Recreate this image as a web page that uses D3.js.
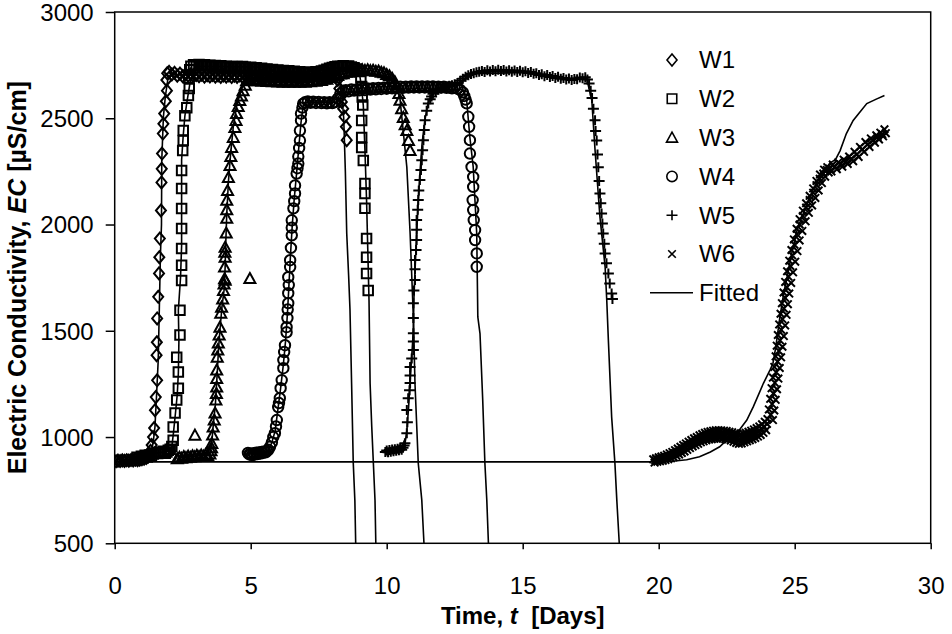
<!DOCTYPE html>
<html>
<head>
<meta charset="utf-8">
<script src="https://cdn.jsdelivr.net/npm/d3@7"></script>
<style>
  body { margin: 0; background: #fff; }
  svg text { font-family: "Liberation Sans", Arial, sans-serif; fill: #000; }
</style>
</head>
<body>
<svg id="chart" width="952" height="634"></svg>
<script>
// measured points [time (days), EC (uS/cm)]
const w1 = [
  [0.05,886],[0.12,889],[0.2,887],[0.28,890],[0.36,888],[0.44,891],[0.52,889],[0.6,892],[0.68,890],[0.76,893],[0.84,891],[0.92,894],[1.0,896],[1.08,898],[1.16,902],[1.22,908],
  [1.28,915],[1.32,935],[1.36,962],[1.41,1000],[1.45,1042],[1.48,1126],[1.51,1188],[1.56,1267],[1.54,1385],[1.55,1446],[1.56,1558],[1.6,1660],[1.63,1770],[1.64,1846],[1.66,1934],[1.7,2066],[1.72,2198],[1.73,2262],[1.74,2334],[1.77,2428],[1.79,2474],[1.82,2522],[1.88,2580],[1.92,2630],[1.9,2680],[1.93,2712],
  [2.0,2718],[2.1,2706],[2.2,2714],[2.3,2700],[2.4,2710],[2.5,2698],[2.6,2706],[2.7,2700],[2.8,2707],[2.9,2697],[3.0,2704],[3.1,2698],[3.2,2705],[3.3,2696],[3.4,2703],[3.5,2697],[3.6,2704],[3.7,2696],[3.8,2702],[3.9,2695],[4.0,2702],[4.1,2696],[4.2,2701],[4.3,2694],[4.4,2700],[4.5,2695],[4.6,2701],[4.7,2694],[4.8,2700],[4.9,2693],[5.0,2699],[5.1,2694],[5.2,2700],[5.3,2693],[5.4,2698],[5.5,2692],[5.6,2698],[5.7,2692],[5.8,2697],[5.9,2691],[6.0,2697],[6.1,2692],[6.2,2696],[6.3,2690],[6.4,2696],[6.5,2691],[6.6,2695],[6.7,2690],[6.8,2695],[6.9,2691],[7.0,2696],[7.1,2692],[7.2,2698],[7.3,2694],[7.4,2700],[7.5,2697],[7.6,2703],[7.7,2699],[7.8,2705],[7.9,2701],[8.0,2704],[8.1,2698],[8.2,2680],[8.26,2640],[8.3,2600],[8.35,2577],[8.4,2545],[8.45,2507],[8.5,2460],[8.53,2397]
];
const w2 = [
  [0.82,905],[0.9,898],[0.98,910],[1.05,902],[1.12,914],[1.2,906],[1.28,916],[1.35,910],[1.42,920],[1.5,925],[1.58,922],[1.65,930],[1.72,926],[1.8,933],[1.86,924],[1.92,930],[1.97,938],[2.04,942],[2.1,955],[2.15,985],
  [2.15,1047],[2.22,1113],[2.28,1174],[2.34,1230],[2.34,1306],[2.28,1376],[2.4,1480],[2.4,1597],[2.46,1737],[2.46,1808],[2.46,1887],[2.46,1981],[2.46,2075],[2.46,2169],[2.46,2254],[2.5,2348],[2.52,2395],[2.52,2442],[2.58,2512],[2.65,2550],[2.71,2607],[2.74,2640],[2.72,2690],[2.76,2728],
  [2.8,2745],[2.9,2752],[3.0,2746],[3.1,2753],[3.2,2748],[3.3,2752],[3.4,2746],[3.5,2750],[3.6,2744],[3.7,2748],[3.8,2742],[3.9,2747],[4.0,2741],[4.1,2745],[4.2,2740],[4.3,2744],[4.4,2739],[4.5,2743],[4.6,2738],[4.7,2744],[4.8,2740],[4.9,2736],[5.0,2740],[5.1,2735],[5.2,2738],[5.3,2732],[5.4,2735],[5.5,2729],[5.6,2732],[5.7,2727],[5.8,2730],[5.9,2724],[6.0,2727],[6.1,2722],[6.2,2725],[6.3,2720],[6.4,2723],[6.5,2718],[6.6,2721],[6.7,2716],[6.8,2719],[6.9,2714],[7.0,2717],[7.1,2713],[7.2,2717],[7.3,2714],[7.4,2719],[7.5,2716],[7.6,2722],[7.7,2726],[7.8,2731],[7.9,2735],[8.0,2739],[8.1,2742],[8.2,2745],[8.3,2743],[8.4,2747],[8.5,2744],[8.6,2746],[8.7,2741],[8.8,2738],[8.9,2732],[9.0,2720],[9.05,2690],[9.08,2650],
  [9.1,2600],[9.12,2562],[9.08,2490],[9.08,2410],[9.08,2363],[9.14,2301],[9.2,2193],[9.2,2146],[9.2,2076],[9.26,1934],[9.26,1846],[9.26,1770],[9.32,1690]
];
const w3 = [
  [2.3,898],[2.38,905],[2.46,900],[2.54,908],[2.62,903],[2.7,910],[2.78,905],[2.86,912],[2.95,1009],[2.94,907],[3.02,914],[3.1,908],[3.18,915],[3.26,910],[3.34,917],[3.42,912],[3.5,920],[3.54,935],[3.56,950],
  [3.57,970],[3.6,1010],[3.62,1047],[3.66,1080],[3.69,1113],[3.72,1174],[3.74,1205],[3.75,1235],[3.75,1275],[3.75,1315],[3.77,1376],[3.79,1410],[3.81,1442],[3.84,1480],[3.87,1517],[3.9,1583],[3.93,1611],[3.97,1650],[4.0,1690],[4.02,1720],[4.04,1745],[4.06,1738],[4.04,1800],[4.06,1846],[4.05,1870],[4.06,1893],[4.1,1960],[4.12,2029],[4.12,2070],[4.12,2114],[4.15,2160],[4.18,2221],[4.24,2278],[4.27,2320],[4.3,2363],[4.36,2410],[4.42,2456],[4.46,2490],[4.48,2522],[4.54,2555],[4.6,2583],[4.66,2605],[4.72,2630],[4.8,2655],[4.85,2677],
  [4.97,1746],
  [4.95,2682],[5.0,2678],[5.1,2684],[5.2,2676],[5.3,2682],[5.4,2674],[5.5,2680],[5.6,2673],[5.7,2679],[5.8,2672],[5.9,2678],[6.0,2671],[6.1,2677],[6.2,2670],[6.3,2676],[6.4,2670],[6.5,2675],[6.6,2669],[6.7,2675],[6.8,2669],[6.9,2674],[7.0,2670],[7.1,2675],[7.2,2672],[7.3,2677],[7.4,2674],[7.5,2680],[7.6,2678],[7.7,2685],[7.8,2684],[7.9,2692],[8.0,2692],[8.1,2700],[8.2,2701],[8.3,2708],[8.4,2710],[8.5,2716],[8.6,2717],[8.7,2722],[8.8,2721],[8.9,2726],[9.0,2724],[9.1,2728],[9.2,2725],[9.3,2728],[9.4,2724],[9.5,2726],[9.6,2721],[9.7,2722],[9.8,2716],[9.9,2714],[10.0,2706],[10.1,2700],[10.2,2688],[10.3,2672],[10.38,2645],
  [10.45,2616],[10.49,2585],[10.55,2545],[10.61,2504],[10.68,2470],[10.74,2442],[10.8,2395],[10.86,2348]
];
const w4 = [
  [4.9,925],[4.95,918],[5.0,922],[5.05,915],[5.1,924],[5.15,918],[5.2,926],[5.25,920],[5.3,928],[5.35,922],[5.4,930],[5.45,925],[5.5,932],[5.55,928],[5.6,935],[5.65,940],
  [5.71,954],[5.78,975],[5.83,1000],[5.89,1018],[5.93,1050],[5.96,1080],[6.01,1141],[6.04,1160],[6.07,1183],[6.1,1230],[6.14,1268],[6.2,1324],[6.2,1362],[6.23,1400],[6.26,1432],[6.32,1493],[6.32,1517],[6.35,1560],[6.36,1600],[6.38,1630],[6.38,1677],[6.4,1715],[6.38,1752],[6.45,1800],[6.45,1832],[6.48,1890],[6.51,1949],[6.51,1985],[6.51,2020],[6.57,2076],[6.6,2110],[6.63,2146],[6.63,2184],[6.69,2240],[6.72,2265],[6.75,2287],[6.75,2320],[6.78,2360],[6.81,2395],[6.81,2442],[6.85,2490],[6.85,2522],[6.9,2550],[6.93,2569],
  [7.0,2575],[7.1,2579],[7.2,2573],[7.3,2578],[7.4,2572],[7.5,2577],[7.6,2571],[7.7,2576],[7.8,2570],[7.9,2575],[8.0,2571],[8.1,2576],[8.2,2592],[8.3,2615],[8.4,2628],[8.5,2632],[8.6,2627],[8.7,2635],[8.8,2630],[8.9,2636],[9.0,2631],[9.1,2638],[9.2,2633],[9.3,2640],[9.4,2635],[9.5,2641],[9.6,2636],[9.7,2643],[9.8,2638],[9.9,2644],[10.0,2639],[10.1,2646],[10.2,2641],[10.3,2647],[10.4,2642],[10.5,2648],[10.6,2643],[10.7,2649],[10.8,2644],[10.9,2650],[11.0,2645],[11.1,2650],[11.2,2645],[11.3,2650],[11.4,2645],[11.5,2650],[11.6,2646],[11.7,2650],[11.8,2645],[11.9,2649],[12.0,2644],[12.1,2648],[12.2,2643],[12.3,2646],[12.4,2641],[12.5,2644],[12.6,2639],[12.7,2634],[12.8,2622],[12.85,2605],[12.9,2588],
  [12.94,2570],[13.0,2507],[13.03,2460],[13.06,2397],[13.06,2334],[13.12,2271],[13.18,2224],[13.18,2177],[13.16,2115],[13.18,2068],[13.2,2021],[13.25,1974],[13.25,1927],[13.31,1864],[13.31,1801]
];
const w5 = [
  [9.95,930],[10.0,937],[10.05,928],[10.1,939],[10.15,931],[10.2,941],[10.25,933],[10.3,943],[10.35,936],[10.4,945],[10.45,938],[10.5,947],[10.55,940],[10.6,950],[10.64,960],[10.67,971],
  [10.74,1018],[10.76,1070],[10.74,1127],[10.79,1183],[10.84,1220],[10.86,1254],[10.86,1290],[10.86,1329],[10.92,1370],[10.98,1409],[10.98,1450],[10.98,1488],[10.98,1560],[10.98,1629],[11.0,1690],[11.04,1739],[11.04,1790],[11.04,1833],[11.08,1880],[11.1,1927],[11.1,1975],[11.1,2021],[11.14,2070],[11.16,2115],[11.18,2160],[11.22,2209],[11.26,2256],[11.29,2303],[11.32,2350],[11.35,2397],[11.38,2445],[11.41,2491],[11.47,2535],[11.53,2570],[11.6,2590],[11.65,2602],
  [11.7,2615],[11.8,2628],[11.9,2634],[12.0,2640],[12.1,2646],[12.2,2648],[12.3,2653],[12.4,2655],[12.5,2660],[12.6,2666],[12.7,2676],[12.8,2686],[12.9,2695],[13.0,2702],[13.1,2708],[13.2,2712],[13.3,2716],[13.4,2719],[13.5,2722],[13.6,2718],[13.7,2726],[13.8,2720],[13.9,2727],[14.0,2721],[14.1,2728],[14.2,2722],[14.3,2727],[14.4,2720],[14.5,2726],[14.6,2719],[14.7,2725],[14.8,2718],[14.9,2724],[15.0,2716],[15.1,2721],[15.2,2713],[15.3,2718],[15.4,2709],[15.5,2712],[15.6,2703],[15.7,2707],[15.8,2698],[15.9,2703],[16.0,2694],[16.1,2699],[16.2,2690],[16.3,2695],[16.4,2686],[16.5,2690],[16.6,2682],[16.7,2687],[16.8,2680],[16.9,2685],[17.0,2684],[17.1,2692],[17.2,2688],[17.3,2693],[17.38,2682],
  [17.44,2663],[17.5,2630],[17.55,2595],[17.6,2545],[17.66,2491],[17.68,2440],[17.72,2395],[17.75,2330],[17.78,2269],[17.81,2205],[17.84,2146],[17.87,2100],[17.9,2052],[17.93,2005],[17.96,1958],[18.0,1910],[18.03,1864],[18.08,1818],[18.15,1770],[18.2,1722],[18.27,1676],[18.3,1650]
];
const w6 = [
  [19.8,895],[19.85,880],[19.9,900],[19.95,884],[20.0,905],[20.05,886],[20.1,908],[20.15,889],[20.2,912],[20.25,892],[20.3,918],[20.35,896],[20.4,924],[20.45,900],[20.5,930],[20.55,905],[20.6,938],[20.65,912],[20.7,946],[20.75,918],[20.8,954],[20.85,925],[20.9,962],[20.95,932],[21.0,970],[21.05,940],[21.1,978],[21.15,948],[21.2,986],[21.25,956],[21.3,994],[21.35,962],[21.4,1000],[21.45,968],[21.5,1008],[21.55,975],[21.6,1014],[21.65,980],[21.7,1020],[21.75,985],[21.8,1024],[21.85,988],[21.9,1027],[21.95,990],[22.0,1030],[22.05,992],[22.1,1032],[22.15,993],[22.2,1032],[22.25,994],[22.3,1031],[22.35,993],[22.4,1030],[22.45,990],[22.5,1028],[22.55,988],[22.6,1025],[22.65,984],[22.7,1022],[22.75,978],[22.8,1018],[22.85,972],[22.9,1015],[22.95,968],[23.0,1012],[23.05,970],[23.1,1015],[23.15,975],[23.2,1020],[23.25,980],[23.3,1025],[23.35,985],[23.4,1030],[23.45,990],[23.5,1036],[23.55,996],[23.6,1042],[23.65,1002],[23.7,1050],[23.75,1010],[23.8,1060],[23.85,1020],[23.9,1072],[23.95,1032],
  [19.88,890],[19.98,894],[20.08,898],[20.18,901],[20.28,906],[20.38,911],[20.48,916],[20.58,924],[20.68,931],[20.78,938],[20.88,946],[20.98,955],[21.08,962],[21.18,970],[21.28,976],[21.38,984],[21.48,990],[21.58,996],[21.68,1002],[21.78,1006],[21.88,1009],[21.98,1011],[22.08,1012],[22.18,1013],[22.28,1012],[22.38,1011],[22.48,1009],[22.58,1006],[22.68,1002],[22.78,997],[22.88,993],[22.98,990],[23.08,992],[23.18,997],[23.28,1002],[23.38,1008],[23.48,1013],[23.58,1020],[23.68,1028],[23.78,1038],[23.88,1048],[23.98,1062],
  [24.0,1085],[24.2,1080],[24.05,1130],[24.25,1125],[24.1,1180],[24.3,1175],[24.15,1230],[24.35,1225],[24.2,1280],[24.4,1275],[24.25,1330],[24.45,1325],[24.3,1380],[24.5,1375],[24.34,1430],[24.55,1425],[24.38,1480],[24.6,1475],[24.43,1530],[24.65,1525],[24.48,1580],[24.7,1575],[24.53,1630],[24.75,1625],[24.59,1680],[24.8,1675],[24.65,1730],[24.87,1725],[24.72,1780],[24.94,1775],[24.8,1830],[25.02,1825],[24.88,1880],[25.1,1875],[24.97,1930],[25.18,1925],[25.07,1980],[25.28,1970],[25.18,2025],[25.4,2015],[25.3,2065],[25.52,2055],[25.42,2100],[25.64,2090],[25.55,2135],[25.76,2125],[25.68,2170],[25.88,2160],[25.8,2205],[26.0,2195],[25.93,2235],[26.12,2225],[26.08,2258],[26.25,2245],
  [24.12,1105],[24.17,1155],[24.22,1205],[24.27,1255],[24.32,1305],[24.37,1355],[24.42,1405],[24.46,1455],[24.5,1505],[24.55,1555],[24.6,1605],[24.65,1655],[24.71,1705],[24.77,1755],[24.84,1805],[24.91,1855],[24.99,1905],[25.08,1955],[25.18,2000],[25.3,2040],[25.42,2080],[25.55,2115],[25.68,2150],[25.8,2185],[25.92,2215],[26.05,2240],[26.18,2257],
  [26.2,2270],[26.35,2250],[26.4,2282],[26.55,2260],[26.6,2292],[26.75,2272],[26.8,2305],[26.95,2285],[27.0,2320],[27.15,2298],[27.2,2342],[27.35,2318],[27.4,2365],[27.55,2342],[27.6,2388],[27.75,2365],[27.8,2405],[27.95,2385],[28.0,2420],[28.1,2400],[28.15,2432],[28.25,2415],[28.3,2448],[28.35,2430],
  [26.28,2262],[26.48,2272],[26.68,2283],[26.88,2296],[27.08,2310],[27.28,2330],[27.48,2353],[27.68,2377],[27.88,2395],[28.05,2412],[28.22,2425]
];

// fitted curves
const fitW1 = [[0,883],[1.2,888],[1.35,930],[1.42,980],[1.48,1047],[1.54,1200],[1.6,1362],[1.64,1600],[1.68,1850],[1.72,2000],[1.73,2300],[1.79,2506],[1.86,2600],[1.95,2680],[2.1,2705],[8.1,2700],[8.25,2680],[8.35,2610],[8.42,2500],[8.48,2250],[8.53,1960],[8.6,1760],[8.65,1600],[8.71,1250],[8.77,880],[8.83,700],[8.86,500]];
const fitW2 = [[0.8,905],[2.0,935],[2.1,954],[2.16,1020],[2.24,1120],[2.3,1200],[2.34,1300],[2.36,1450],[2.34,1597],[2.42,1750],[2.46,1900],[2.46,2100],[2.46,2304],[2.52,2420],[2.58,2510],[2.66,2580],[2.76,2660],[2.9,2730],[3.0,2745],[8.8,2735],[9.0,2710],[9.08,2640],[9.14,2560],[9.2,2350],[9.26,2113],[9.35,1643],[9.39,1252],[9.45,1050],[9.51,877],[9.57,703],[9.6,500]];
const fitW3 = [[2.3,900],[3.5,918],[3.56,960],[3.62,1050],[3.7,1150],[3.76,1280],[3.82,1420],[3.88,1520],[3.95,1620],[4.03,1700],[4.06,1800],[4.08,1900],[4.12,2050],[4.18,2200],[4.26,2330],[4.36,2460],[4.5,2570],[4.7,2650],[4.9,2680],[7.0,2672],[9.0,2724],[10.2,2690],[10.35,2650],[10.49,2590],[10.74,2270],[10.86,1960],[10.98,1565],[11.04,1252],[11.16,877],[11.29,703],[11.37,500]];
const fitW4 = [[4.9,920],[5.65,935],[5.78,975],[5.9,1030],[6.0,1130],[6.1,1230],[6.2,1340],[6.28,1450],[6.35,1580],[6.4,1700],[6.46,1850],[6.53,2000],[6.6,2120],[6.7,2260],[6.78,2380],[6.85,2480],[6.93,2560],[7.05,2576],[8.15,2576],[8.3,2620],[12.8,2635],[12.94,2585],[13.05,2420],[13.18,2271],[13.31,1957],[13.35,1565],[13.43,1487],[13.53,1174],[13.61,877],[13.68,703],[13.74,500]];
const fitW5 = [[9.95,930],[10.6,945],[10.68,975],[10.74,1030],[10.8,1130],[10.86,1260],[10.92,1380],[10.98,1500],[11.0,1650],[11.04,1780],[11.1,1950],[11.16,2110],[11.22,2240],[11.3,2380],[11.4,2490],[11.52,2570],[11.7,2620],[12.5,2655],[13.2,2710],[15.0,2715],[16.5,2685],[17.2,2690],[17.35,2688],[17.54,2585],[17.66,2350],[17.84,2035],[18.03,1800],[18.09,1645],[18.15,1455],[18.27,1095],[18.39,877],[18.46,703],[18.55,500]];
const fitW6 = [[0,883],[19.9,883],[20.5,886],[21.03,893],[21.5,907],[21.9,930],[22.24,954],[22.5,985],[22.87,1017],[23.24,1080],[23.48,1143],[23.85,1253],[24.09,1315],[24.2,1346],[24.3,1420],[24.45,1560],[24.6,1680],[24.75,1770],[24.9,1870],[25.1,1980],[25.4,2080],[25.7,2170],[26.0,2240],[26.3,2290],[26.5,2305],[26.67,2348],[26.9,2428],[27.15,2490],[27.4,2530],[27.65,2569],[28.0,2590],[28.3,2607]];

const xTicks = [0, 5, 10, 15, 20, 25, 30];
const yTicks = [500, 1000, 1500, 2000, 2500, 3000];
const legendNames = ["W1", "W2", "W3", "W4", "W5", "W6", "Fitted"];

// marker outlines
const shapes = {
  diamond: "M0,-6L5,0L0,6L-5,0Z",
  square: "M-4.75,-4.75h9.5v9.5h-9.5Z",
  triangle: "M0,-5.5L5.5,4.5L-5.5,4.5Z",
  circle: "M5.2,0A5.2,5.2 0 1,1 -5.2,0A5.2,5.2 0 1,1 5.2,0Z",
  plus: "M-5.5,0H5.5M0,-5V5",
  cross: "M-3.8,-3.8L3.8,3.8M-3.8,3.8L3.8,-3.8"
};

const series = [
  { name: "W1", points: w1, shape: shapes.diamond },
  { name: "W2", points: w2, shape: shapes.square },
  { name: "W3", points: w3, shape: shapes.triangle },
  { name: "W4", points: w4, shape: shapes.circle },
  { name: "W5", points: w5, shape: shapes.plus },
  { name: "W6", points: w6, shape: shapes.cross }
];
const fits = [fitW1, fitW2, fitW3, fitW4, fitW5, fitW6];

const svg = d3.select("#chart");
const font = '"Liberation Sans", Arial, sans-serif';

const x = d3.scaleLinear().domain([0, 30]).range([114.7, 930.7]);
const y = d3.scaleLinear().domain([500, 3000]).range([543.3, 12]);

svg.append("defs").append("clipPath").attr("id", "plot")
  .append("rect")
  .attr("x", x(0)).attr("y", y(3000))
  .attr("width", x(30) - x(0)).attr("height", y(500) - y(3000));

// axes
const xAxis = svg.append("g")
  .attr("transform", `translate(0,${y(500)})`)
  .call(d3.axisBottom(x).tickValues(xTicks).tickSize(6).tickFormat(d3.format("d")))
  .call(g => g.select(".domain").remove())
  .attr("font-family", font)
  .attr("font-size", 24);
xAxis.selectAll("line").attr("stroke", "#000").attr("stroke-width", 1.5);
xAxis.selectAll("text").attr("y", 50.7).attr("dy", 0);

const yAxis = svg.append("g")
  .attr("transform", `translate(${x(0)},0)`)
  .call(d3.axisLeft(y).tickValues(yTicks).tickSize(9).tickFormat(d3.format("d")))
  .call(g => g.select(".domain").remove())
  .attr("font-family", font)
  .attr("font-size", 24);
yAxis.selectAll("line").attr("stroke", "#000").attr("stroke-width", 1.5);
yAxis.selectAll("text").attr("x", -21).attr("dy", "0.35em");

// frame
svg.append("rect")
  .attr("x", x(0)).attr("y", y(3000))
  .attr("width", x(30) - x(0)).attr("height", y(500) - y(3000))
  .attr("fill", "none").attr("stroke", "#000").attr("stroke-width", 1.5);

// axis titles
svg.append("text")
  .attr("x", (x(0) + x(30)) / 2).attr("y", 624)
  .attr("text-anchor", "middle")
  .attr("font-size", 24).attr("font-weight", "bold")
  .call(t => {
    t.append("tspan").text("Time, ");
    t.append("tspan").attr("font-style", "italic").text("t");
    t.append("tspan").text("\u00a0 [Days]");
  });

svg.append("text")
  .attr("transform", `translate(26,${(y(500) + y(3000)) / 2}) rotate(-90)`)
  .attr("text-anchor", "middle")
  .attr("font-size", 25).attr("font-weight", "bold")
  .call(t => {
    t.append("tspan").text("Electric Conductivity, ");
    t.append("tspan").attr("font-style", "italic").text("EC");
    t.append("tspan").text(" [\u00b5S/cm]");
  });

// fitted lines
const line = d3.line().x(d => x(d[0])).y(d => y(d[1]));
svg.append("g").attr("clip-path", "url(#plot)")
  .selectAll("path")
  .data(fits)
  .join("path")
  .attr("d", line)
  .attr("fill", "none")
  .attr("stroke", "#000")
  .attr("stroke-width", 1.6);

// markers
const markers = svg.append("g").attr("clip-path", "url(#plot)");
series.forEach(s => {
  markers.append("g")
    .attr("class", s.name)
    .selectAll("path")
    .data(s.points)
    .join("path")
    .attr("transform", d => `translate(${x(d[0])},${y(d[1])})`)
    .attr("d", s.shape)
    .attr("fill", "none")
    .attr("stroke", "#000")
    .attr("stroke-width", 2);
});

// legend
const legend = svg.append("g");
const legendY = i => 60 + i * 38.8;
legendNames.forEach((name, i) => {
  const row = legend.append("g").attr("transform", `translate(0,${legendY(i)})`);
  if (i < series.length) {
    row.append("path")
      .attr("transform", "translate(672,0)")
      .attr("d", series[i].shape)
      .attr("fill", "none").attr("stroke", "#000").attr("stroke-width", 1.6);
  } else {
    row.append("line")
      .attr("x1", 650).attr("x2", 693)
      .attr("stroke", "#000").attr("stroke-width", 1.5);
  }
  row.append("text")
    .attr("x", 699).attr("dy", "0.35em")
    .attr("font-size", 24)
    .text(name);
});
</script>
</body>
</html>
